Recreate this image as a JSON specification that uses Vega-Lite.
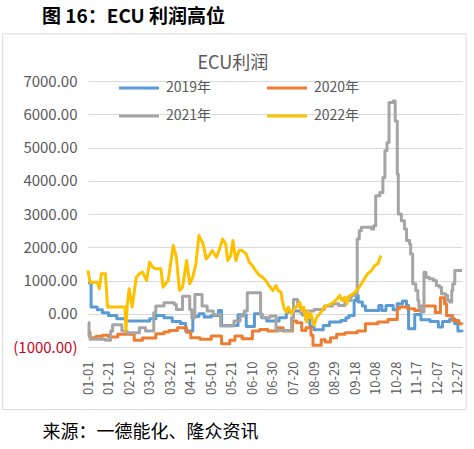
{
  "$schema": "https://vega.github.io/schema/vega-lite/v6.json",
  "width": 374,
  "height": 266,
  "autosize": {"type": "none"},
  "padding": {"left": 88, "top": 81, "right": 12, "bottom": 102},
  "background": "white",
  "title": {"text": "图 16：ECU 利润高位", "anchor": "start", "frame": "group", "dx": -46, "offset": 6, "fontSize": 19, "font": "Noto Sans CJK SC", "fontWeight": "bold", "color": "#000000"},
  "config": {"view": {"stroke": null}, "font": "Noto Sans CJK SC"},
  "datasets": {"series": [
    {"s":"2019年","d":0,"v":930},{"s":"2019年","d":3,"v":200},{"s":"2019年","d":9,"v":120},{"s":"2019年","d":14,"v":30},{"s":"2019年","d":20,"v":-50},{"s":"2019年","d":28,"v":-150},{"s":"2019年","d":37,"v":-220},{"s":"2019年","d":60,"v":-150},{"s":"2019年","d":66,"v":-50},{"s":"2019年","d":74,"v":-120},{"s":"2019年","d":82,"v":-230},{"s":"2019年","d":90,"v":-290},{"s":"2019年","d":95,"v":-520},{"s":"2019年","d":102,"v":-80},{"s":"2019年","d":108,"v":0},{"s":"2019年","d":113,"v":-100},{"s":"2019年","d":120,"v":-50},{"s":"2019年","d":127,"v":100},{"s":"2019年","d":130,"v":-350},{"s":"2019年","d":146,"v":-30},{"s":"2019年","d":154,"v":-380},{"s":"2019年","d":162,"v":0},{"s":"2019年","d":169,"v":-120},{"s":"2019年","d":174,"v":-220},{"s":"2019年","d":186,"v":-120},{"s":"2019年","d":193,"v":50},{"s":"2019年","d":200,"v":80},{"s":"2019年","d":209,"v":-40},{"s":"2019年","d":212,"v":-180},{"s":"2019年","d":216,"v":-380},{"s":"2019年","d":220,"v":-480},{"s":"2019年","d":229,"v":-350},{"s":"2019年","d":235,"v":-250},{"s":"2019年","d":246,"v":-200},{"s":"2019年","d":251,"v":-120},{"s":"2019年","d":254,"v":-50},{"s":"2019年","d":259,"v":400},{"s":"2019年","d":261,"v":550},{"s":"2019年","d":263,"v":350},{"s":"2019年","d":267,"v":230},{"s":"2019年","d":270,"v":100},{"s":"2019年","d":283,"v":250},{"s":"2019年","d":286,"v":100},{"s":"2019年","d":290,"v":250},{"s":"2019年","d":297,"v":120},{"s":"2019年","d":301,"v":300},{"s":"2019年","d":306,"v":380},{"s":"2019年","d":310,"v":250},{"s":"2019年","d":312,"v":-450},{"s":"2019年","d":318,"v":-20},{"s":"2019年","d":324,"v":-180},{"s":"2019年","d":333,"v":-230},{"s":"2019年","d":341,"v":-400},{"s":"2019年","d":345,"v":-230},{"s":"2019年","d":352,"v":-160},{"s":"2019年","d":357,"v":-300},{"s":"2019年","d":360,"v":-520},{"s":"2019年","d":364,"v":-550},
    {"s":"2020年","d":0,"v":-560},{"s":"2020年","d":2,"v":-720},{"s":"2020年","d":8,"v":-680},{"s":"2020年","d":14,"v":-650},{"s":"2020年","d":20,"v":-700},{"s":"2020年","d":29,"v":-620},{"s":"2020年","d":45,"v":-800},{"s":"2020年","d":53,"v":-730},{"s":"2020年","d":66,"v":-600},{"s":"2020年","d":74,"v":-550},{"s":"2020年","d":79,"v":-500},{"s":"2020年","d":87,"v":-420},{"s":"2020年","d":96,"v":-560},{"s":"2020年","d":100,"v":-720},{"s":"2020年","d":109,"v":-770},{"s":"2020年","d":120,"v":-670},{"s":"2020年","d":130,"v":-900},{"s":"2020年","d":138,"v":-800},{"s":"2020年","d":143,"v":-670},{"s":"2020年","d":150,"v":-750},{"s":"2020年","d":160,"v":-520},{"s":"2020年","d":167,"v":-470},{"s":"2020年","d":175,"v":-520},{"s":"2020年","d":185,"v":-420},{"s":"2020年","d":190,"v":-520},{"s":"2020年","d":199,"v":-220},{"s":"2020年","d":203,"v":-270},{"s":"2020年","d":208,"v":-500},{"s":"2020年","d":212,"v":-420},{"s":"2020年","d":217,"v":-650},{"s":"2020年","d":219,"v":-950},{"s":"2020年","d":227,"v":-780},{"s":"2020年","d":231,"v":-850},{"s":"2020年","d":236,"v":-720},{"s":"2020年","d":242,"v":-620},{"s":"2020年","d":250,"v":-570},{"s":"2020年","d":262,"v":-520},{"s":"2020年","d":270,"v":-300},{"s":"2020年","d":282,"v":-250},{"s":"2020年","d":292,"v":-170},{"s":"2020年","d":301,"v":150},{"s":"2020年","d":303,"v":200},{"s":"2020年","d":311,"v":150},{"s":"2020年","d":318,"v":100},{"s":"2020年","d":323,"v":230},{"s":"2020年","d":338,"v":40},{"s":"2020年","d":343,"v":480},{"s":"2020年","d":347,"v":300},{"s":"2020年","d":349,"v":-50},{"s":"2020年","d":355,"v":-200},{"s":"2020年","d":361,"v":-300},{"s":"2020年","d":364,"v":-320},
    {"s":"2021年","d":0,"v":-270},{"s":"2021年","d":1,"v":-670},{"s":"2021年","d":2,"v":-770},{"s":"2021年","d":17,"v":-800},{"s":"2021年","d":22,"v":-520},{"s":"2021年","d":24,"v":-330},{"s":"2021年","d":33,"v":-520},{"s":"2021年","d":38,"v":-570},{"s":"2021年","d":50,"v":-420},{"s":"2021年","d":56,"v":-520},{"s":"2021年","d":64,"v":30},{"s":"2021年","d":66,"v":230},{"s":"2021年","d":74,"v":330},{"s":"2021年","d":84,"v":280},{"s":"2021年","d":86,"v":130},{"s":"2021年","d":92,"v":530},{"s":"2021年","d":99,"v":130},{"s":"2021年","d":101,"v":-120},{"s":"2021年","d":104,"v":580},{"s":"2021年","d":111,"v":230},{"s":"2021年","d":116,"v":80},{"s":"2021年","d":122,"v":-20},{"s":"2021年","d":129,"v":-370},{"s":"2021年","d":142,"v":-220},{"s":"2021年","d":148,"v":-70},{"s":"2021年","d":152,"v":80},{"s":"2021年","d":155,"v":630},{"s":"2021年","d":168,"v":-20},{"s":"2021年","d":170,"v":-120},{"s":"2021年","d":177,"v":-70},{"s":"2021年","d":183,"v":-500},{"s":"2021年","d":198,"v":-120},{"s":"2021年","d":200,"v":430},{"s":"2021年","d":204,"v":230},{"s":"2021年","d":207,"v":30},{"s":"2021年","d":212,"v":80},{"s":"2021年","d":220,"v":130},{"s":"2021年","d":230,"v":230},{"s":"2021年","d":238,"v":300},{"s":"2021年","d":244,"v":250},{"s":"2021年","d":250,"v":400},{"s":"2021年","d":256,"v":550},{"s":"2021年","d":261,"v":650},{"s":"2021年","d":262,"v":2250},{"s":"2021年","d":264,"v":2500},{"s":"2021年","d":266,"v":2600},{"s":"2021年","d":276,"v":2550},{"s":"2021年","d":278,"v":2650},{"s":"2021年","d":280,"v":3550},{"s":"2021年","d":284,"v":3650},{"s":"2021年","d":287,"v":4100},{"s":"2021年","d":289,"v":4900},{"s":"2021年","d":291,"v":5150},{"s":"2021年","d":293,"v":6350},{"s":"2021年","d":297,"v":6400},{"s":"2021年","d":299,"v":5800},{"s":"2021年","d":301,"v":4200},{"s":"2021年","d":302,"v":3000},{"s":"2021年","d":305,"v":2800},{"s":"2021年","d":308,"v":2550},{"s":"2021年","d":310,"v":2200},{"s":"2021年","d":313,"v":2100},{"s":"2021年","d":314,"v":1800},{"s":"2021年","d":316,"v":900},{"s":"2021年","d":319,"v":700},{"s":"2021年","d":321,"v":400},{"s":"2021年","d":322,"v":200},{"s":"2021年","d":324,"v":50},{"s":"2021年","d":327,"v":1250},{"s":"2021年","d":329,"v":1100},{"s":"2021年","d":332,"v":1050},{"s":"2021年","d":336,"v":1000},{"s":"2021年","d":339,"v":850},{"s":"2021年","d":342,"v":800},{"s":"2021年","d":344,"v":600},{"s":"2021年","d":348,"v":550},{"s":"2021年","d":350,"v":400},{"s":"2021年","d":352,"v":350},{"s":"2021年","d":354,"v":700},{"s":"2021年","d":355,"v":900},{"s":"2021年","d":357,"v":1300},{"s":"2021年","d":364,"v":1300},
    {"s":"2022年","d":0,"v":1300},{"s":"2022年","d":2,"v":950},{"s":"2022年","d":9,"v":950},{"s":"2022年","d":11,"v":750},{"s":"2022年","d":13,"v":1200},{"s":"2022年","d":17,"v":1200},{"s":"2022年","d":19,"v":200},{"s":"2022年","d":36,"v":200},{"s":"2022年","d":37,"v":-500},{"s":"2022年","d":38,"v":200},{"s":"2022年","d":40,"v":750},{"s":"2022年","d":43,"v":200},{"s":"2022年","d":47,"v":1100},{"s":"2022年","d":50,"v":1200},{"s":"2022年","d":53,"v":1250},{"s":"2022年","d":57,"v":1000},{"s":"2022年","d":60,"v":1550},{"s":"2022年","d":63,"v":1400},{"s":"2022年","d":66,"v":1350},{"s":"2022年","d":71,"v":1350},{"s":"2022年","d":73,"v":800},{"s":"2022年","d":78,"v":1000},{"s":"2022年","d":83,"v":2050},{"s":"2022年","d":86,"v":1700},{"s":"2022年","d":89,"v":700},{"s":"2022年","d":92,"v":800},{"s":"2022年","d":96,"v":1600},{"s":"2022年","d":99,"v":900},{"s":"2022年","d":102,"v":1100},{"s":"2022年","d":105,"v":1500},{"s":"2022年","d":108,"v":2350},{"s":"2022年","d":112,"v":2100},{"s":"2022年","d":115,"v":1650},{"s":"2022年","d":118,"v":1750},{"s":"2022年","d":121,"v":1900},{"s":"2022年","d":125,"v":1700},{"s":"2022年","d":128,"v":1950},{"s":"2022年","d":131,"v":2250},{"s":"2022年","d":134,"v":2100},{"s":"2022年","d":136,"v":1600},{"s":"2022年","d":139,"v":1750},{"s":"2022年","d":141,"v":2200},{"s":"2022年","d":144,"v":1600},{"s":"2022年","d":147,"v":1900},{"s":"2022年","d":150,"v":1900},{"s":"2022年","d":154,"v":1800},{"s":"2022年","d":157,"v":1550},{"s":"2022年","d":160,"v":1450},{"s":"2022年","d":163,"v":1300},{"s":"2022年","d":167,"v":1150},{"s":"2022年","d":170,"v":1100},{"s":"2022年","d":173,"v":1000},{"s":"2022年","d":176,"v":850},{"s":"2022年","d":180,"v":700},{"s":"2022年","d":183,"v":850},{"s":"2022年","d":185,"v":700},{"s":"2022年","d":188,"v":650},{"s":"2022年","d":189,"v":400},{"s":"2022年","d":191,"v":150},{"s":"2022年","d":193,"v":50},{"s":"2022年","d":195,"v":200},{"s":"2022年","d":198,"v":0},{"s":"2022年","d":201,"v":150},{"s":"2022年","d":204,"v":250},{"s":"2022年","d":206,"v":350},{"s":"2022年","d":208,"v":100},{"s":"2022年","d":210,"v":200},{"s":"2022年","d":211,"v":-50},{"s":"2022年","d":213,"v":-250},{"s":"2022年","d":214,"v":50},{"s":"2022年","d":216,"v":-100},{"s":"2022年","d":217,"v":0},{"s":"2022年","d":219,"v":-250},{"s":"2022年","d":220,"v":-350},{"s":"2022年","d":222,"v":-150},{"s":"2022年","d":224,"v":-50},{"s":"2022年","d":227,"v":50},{"s":"2022年","d":230,"v":200},{"s":"2022年","d":233,"v":250},{"s":"2022年","d":237,"v":300},{"s":"2022年","d":241,"v":400},{"s":"2022年","d":245,"v":550},{"s":"2022年","d":247,"v":400},{"s":"2022年","d":250,"v":500},{"s":"2022年","d":252,"v":300},{"s":"2022年","d":253,"v":500},{"s":"2022年","d":258,"v":600},{"s":"2022年","d":260,"v":650},{"s":"2022年","d":263,"v":750},{"s":"2022年","d":266,"v":900},{"s":"2022年","d":269,"v":1050},{"s":"2022年","d":272,"v":1200},{"s":"2022年","d":276,"v":1300},{"s":"2022年","d":279,"v":1450},{"s":"2022年","d":282,"v":1500},{"s":"2022年","d":284,"v":1650},{"s":"2022年","d":285,"v":1750}
  ],
  "frame": [{"d": -83, "d2": 368, "v": 8420, "v2": -2880}],
  "label": [{"t": "ECU利润", "d": 141, "v": 7500}]},
  "encoding": {
    "x": {"field": "d", "type": "quantitative", "scale": {"domain": [0, 364], "nice": false, "zero": false},
      "axis": {"values": [0,20,40,60,80,100,120,140,160,180,200,220,240,260,280,300,320,340,360],
        "labelExpr": "timeFormat(datetime(2021,0,1+datum.value),'%m-%d')", "labelOverlap": false,
        "labelAngle": -90, "grid": false, "ticks": false, "domain": false, "labelPadding": 14,
        "labelFontSize": 13, "labelColor": "#595959", "labelFont": "Noto Sans CJK SC",
        "title": "来源：一德能化、隆众资讯", "titleAnchor": "start", "titleAlign": "left", "titleX": -46, "titleY": 85,
        "titleBaseline": "middle", "titleFontSize": 18, "titleFontWeight": "normal", "titleColor": "#000000", "titleFont": "Noto Sans CJK SC"}},
    "y": {"field": "v", "type": "quantitative", "scale": {"domain": [-1000, 7000], "nice": false, "zero": false},
      "axis": {"values": [-1000,0,1000,2000,3000,4000,5000,6000,7000], "title": null, "domain": false, "ticks": false,
        "labelPadding": 11, "labelFontSize": 15, "labelFont": "Noto Sans CJK SC", "labelOverlap": false,
        "labelColor": {"condition": {"test": "datum.value < 0", "value": "#CC0022"}, "value": "#595959"},
        "labelExpr": "datum.value < 0 ? '(' + format(-datum.value, '.2f') + ')' : format(datum.value, '.2f')",
        "gridColor": "#d9d9d9", "gridWidth": 1}}
  },
  "layer": [
    {"data": {"name": "frame"},
     "mark": {"type": "rect", "filled": false, "stroke": "#d9d9d9", "strokeWidth": 1},
     "encoding": {"x2": {"field": "d2"}, "y2": {"field": "v2"}}},
    {"data": {"name": "label"},
     "mark": {"type": "text", "fontSize": 18, "color": "#595959", "font": "Noto Sans CJK SC", "baseline": "middle", "align": "center"},
     "encoding": {"text": {"field": "t"}}},
    {"data": {"name": "series"},
     "transform": [{"filter": "datum.s != '2022年'"}],
     "mark": {"type": "line", "interpolate": "step-after", "strokeWidth": 3, "strokeJoin": "round"},
     "encoding": {
       "color": {"field": "s", "type": "nominal",
         "scale": {"domain": ["2019年","2020年","2021年","2022年"], "range": ["#5B9BD5","#ED7D31","#A5A5A5","#FFC000"]},
         "legend": {"orient": "none", "legendX": 44, "legendY": 0, "columns": 2, "direction": "horizontal", "title": null,
           "symbolType": "M-5,0L5,0", "symbolSize": 64, "symbolStrokeWidth": 3, "labelOffset": 20, "columnPadding": 49, "rowPadding": 14,
           "labelFontSize": 14, "labelColor": "#595959", "labelFont": "Noto Sans CJK SC", "padding": 0}}}},
    {"data": {"name": "series"},
     "transform": [{"filter": "datum.s == '2022年'"}],
     "mark": {"type": "line", "strokeWidth": 3, "strokeJoin": "round"},
     "encoding": {"color": {"field": "s", "type": "nominal"}}}
  ]
}
